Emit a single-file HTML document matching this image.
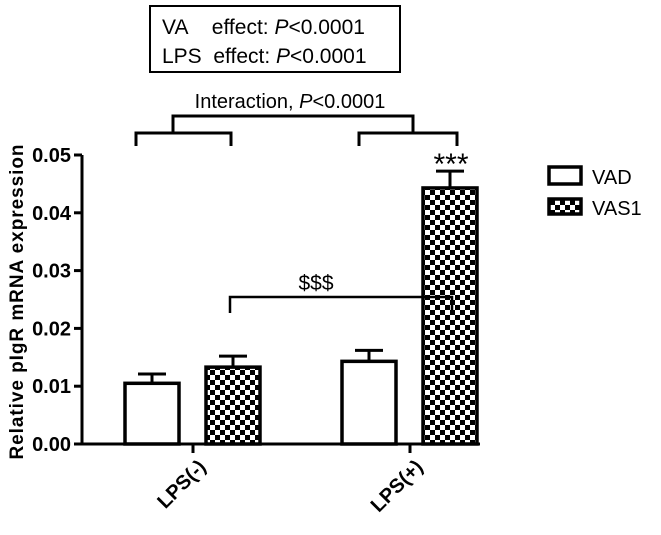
<!DOCTYPE html>
<html><head><meta charset="utf-8"><style>
body{margin:0;background:#fff}
text{font-family:"Liberation Sans",sans-serif}
</style></head><body>
<svg width="661" height="530" viewBox="0 0 661 530">
<defs>
<pattern id="chk" width="10" height="10" patternUnits="userSpaceOnUse">
<rect width="10" height="10" fill="#fff"/>
<rect width="5" height="5" fill="#000"/><rect x="5" y="5" width="5" height="5" fill="#000"/>
</pattern>
</defs>
<g id="plot"></g>
<rect x="150" y="6" width="250" height="66" fill="none" stroke="#000" stroke-width="2"/>
<text x="162" y="34" font-size="21">VA&#160;&#160;&#160;&#160;effect: <tspan font-style="italic">P</tspan>&lt;0.0001</text>
<text x="162" y="63" font-size="21">LPS&#160;&#160;effect: <tspan font-style="italic">P</tspan>&lt;0.0001</text>
<text x="290" y="108" font-size="20" text-anchor="middle">Interaction, <tspan font-style="italic">P</tspan>&lt;0.0001</text>
<g stroke="#000" stroke-width="3" fill="none">
<path d="M136,146 V133 H231 V146 M173,133 V116 H413 V133 M359,146 V133 H457 V146"/>
</g>
<g stroke="#000" stroke-width="2.5" fill="none">
<path d="M230,313 V297 H452 V313"/>
</g>
<text x="316" y="290" font-size="21" text-anchor="middle">$$$</text>
<text x="451" y="174" font-size="30" text-anchor="middle">***</text>
<text transform="translate(23,302) rotate(-90)" font-size="19" font-weight="bold" text-anchor="middle" textLength="315" lengthAdjust="spacing">Relative pIgR mRNA expression</text>
<rect x="549" y="167" width="32" height="17" fill="#fff" stroke="#000" stroke-width="3.5"/>
<text x="592" y="184" font-size="20">VAD</text>
<rect x="549" y="199" width="32" height="15" fill="url(#chk)" stroke="#000" stroke-width="3.5"/>
<text x="592" y="215" font-size="20">VAS1</text>
</svg>
<script>
const yTicks=[0,0.01,0.02,0.03,0.04,0.05];
const yTickLabels=["0.00","0.01","0.02","0.03","0.04","0.05"];
const groups=["LPS(-)","LPS(+)"];
const vad=[0.0105,0.0143];
const vas1=[0.0133,0.0443];
const vadErr=[0.0016,0.0019];
const vas1Err=[0.0019,0.0029];
const NS="http://www.w3.org/2000/svg";
const g=document.getElementById('plot');
const y0=444,yTop=155;
const y=v=>y0-(v/0.05)*(y0-yTop);
const gx=i=>193+i*217;
function mk(t,a){const e=document.createElementNS(NS,t);for(const k in a)e.setAttribute(k,a[k]);g.appendChild(e);return e;}
const ax=mk('path',{d:`M82,${yTop} V${y0} H480`,stroke:'#000','stroke-width':3,fill:'none'});


yTicks.forEach((v,i)=>{
 const t=mk('line',{x1:74,x2:82,y1:y(v),y2:y(v),stroke:'#000','stroke-width':3});
 
 
 const l=mk('text',{x:71,y:y(v)+7,'font-size':20,'font-weight':'bold','text-anchor':'end'});
 l.textContent=yTickLabels[i];
 
 
});
groups.forEach((c,i)=>{
 const x=gx(i);
 const t=mk('line',{x1:x,x2:x,y1:y0,y2:y0+9,stroke:'#000','stroke-width':3});
 
 
 const l=mk('text',{transform:`translate(${x+14},${y0+24}) rotate(-45)`,'font-size':20,'font-weight':'bold','text-anchor':'end'});
 l.textContent=c;
 
 
 [[vad,vadErr,-68,'#fff','vad'],[vas1,vas1Err,13,'url(#chk)','vas1']].forEach(([s,e,off,f,n])=>{
  const bx=x+off,w=54,top=y(s[i]),et=y(s[i]+e[i]),cx=bx+w/2;
  const eb=mk('path',{d:`M${cx},${top} V${et} M${cx-14},${et} H${cx+14}`,stroke:'#000','stroke-width':3,fill:'none'});
  
  
  const b=mk('rect',{x:bx,y:top,width:w,height:y0-top,fill:f,stroke:'#000','stroke-width':3.5});
  
  
 });
});
</script>
</body></html>
